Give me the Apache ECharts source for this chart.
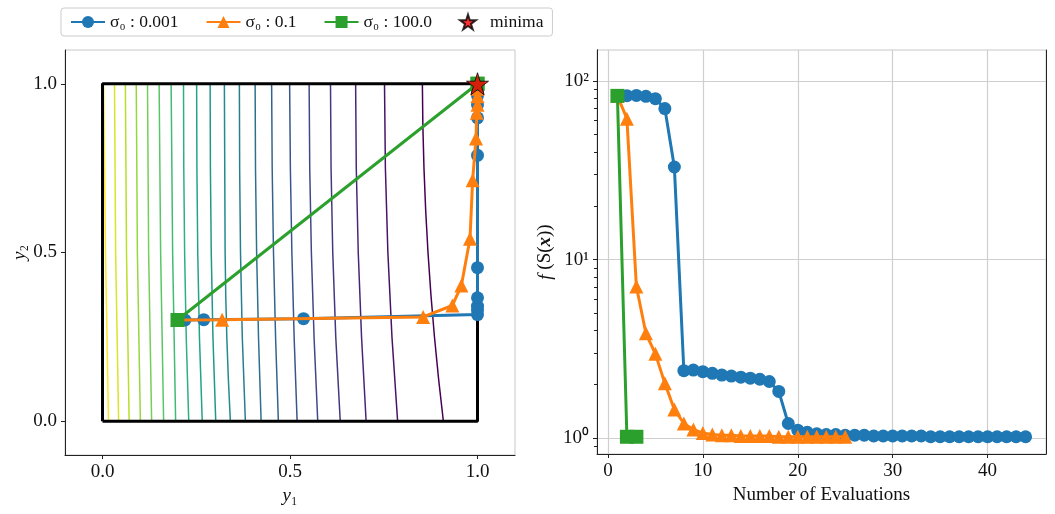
<!DOCTYPE html>
<html lang="en">

<head>
    <meta charset="UTF-8">
    <title>sigma0 comparison</title>
    <script src="https://cdn.jsdelivr.net/npm/echarts@6/dist/echarts.min.js"></script>
</head>

<style>
    html, body {
        margin: 0;
        padding: 0;
        background: #fff;
    }

    #chart {
        width: 1055px;
        height: 514px;
    }
</style>

<body>
    <div id="chart"></div>
</body>

</html>

<script>
    // contour lines (y1 position of each line at y2 = 0, 0.5, 1)
    const contourBottom = [0.016, 0.043, 0.071, 0.101, 0.131, 0.163, 0.195, 0.230, 0.266, 0.302, 0.341, 0.381, 0.423, 0.469, 0.519, 0.574, 0.634, 0.703, 0.787, 0.909];
    const contourMid = [0.008, 0.035, 0.064, 0.093, 0.123, 0.155, 0.187, 0.219, 0.254, 0.290, 0.327, 0.368, 0.411, 0.456, 0.505, 0.557, 0.614, 0.682, 0.761, 0.868];
    const contourTop = [0.003, 0.032, 0.061, 0.090, 0.120, 0.151, 0.183, 0.216, 0.251, 0.287, 0.325, 0.365, 0.407, 0.451, 0.499, 0.551, 0.608, 0.675, 0.752, 0.853];
    const contourLevels = [0.5, 1.0];

    // search box
    const boxX = [0, 1, 1, 0, 0];
    const boxY = [0, 0, 1, 1, 0];

    // trajectories in the (y1, y2) plane
    const blueY1 = [0.2, 0.22, 0.27, 0.536, 1.0, 1.0, 1.0, 1.0, 1.0, 1.0, 1.0, 1.0, 1.0, 1.0, 1.0, 1.0];
    const blueY2 = [0.3, 0.3, 0.301, 0.304, 0.316, 0.33, 0.341, 0.366, 0.455, 0.788, 0.899, 0.938, 0.965, 0.98, 0.99, 1.0];
    const orangeY1 = [0.2, 0.319, 0.855, 0.933, 0.957, 0.98, 0.987, 0.996, 0.998, 1.0, 1.0, 1.0, 1.0];
    const orangeY2 = [0.3, 0.301, 0.309, 0.343, 0.402, 0.541, 0.714, 0.838, 0.914, 0.938, 0.963, 0.985, 1.0];
    const greenY1 = [0.2, 1.0, 1.0];
    const greenY2 = [0.3, 1.0, 1.0];
    const minimaY1 = [1.0];
    const minimaY2 = [1.0];

    // objective value per evaluation
    const blueF = [82.5, 82.7, 83, 82, 79.6, 70, 33, 2.39, 2.41, 2.36, 2.31, 2.26, 2.23, 2.2, 2.17, 2.14, 2.08, 1.83, 1.21, 1.11,
        1.08, 1.06, 1.05, 1.05, 1.04, 1.04, 1.04, 1.03, 1.03, 1.03, 1.03, 1.03, 1.03, 1.02, 1.02, 1.02, 1.02, 1.02, 1.02, 1.02,
        1.02, 1.02, 1.02, 1.02];
    const orangeF = [82.5, 61.5, 7.07, 3.87, 2.97, 2.03, 1.45, 1.21, 1.12, 1.07, 1.05, 1.04, 1.04, 1.03, 1.03, 1.03, 1.03, 1.02,
        1.02, 1.02, 1.02, 1.02, 1.02, 1.02, 1.02];
    const greenF = [82.5, 1.02, 1.02];

    // ticks
    const squareTicks = [0, 0.5, 1];
    const evalTicks = [0, 10, 20, 30, 40];
    const logMajor = [1, 10, 100];
    const logMinor = [0.9, 2, 3, 4, 5, 6, 7, 8, 9, 20, 30, 40, 50, 60, 70, 80, 90];

    const names = ['σ₀ : 0.001', 'σ₀ : 0.1', 'σ₀ : 100.0', 'minima'];
    const blue = '#1f77b4', orange = '#ff7f0e', green = '#2ca02c';
    const font = 'Liberation Serif';
    const starPath = 'path://M50,0 L61,35 L98,35 L68,57 L79,91 L50,70 L21,91 L32,57 L2,35 L39,35 Z';

    const viridis = ['#440154', '#482475', '#414487', '#355f8d', '#2a788e', '#21918c', '#22a884', '#44bf70', '#7ad151', '#bddf26', '#fde725'];

    function viridisAt(t) {
        let p = t * (viridis.length - 1);
        let i = Math.min(Math.floor(p), viridis.length - 2);
        let f = p - i;
        let a = viridis[i], b = viridis[i + 1];
        let c = [1, 3, 5].map(k => {
            let va = parseInt(a.substr(k, 2), 16), vb = parseInt(b.substr(k, 2), 16);
            return Math.round(va + (vb - va) * f);
        });
        return 'rgb(' + c.join(',') + ')';
    }

    function pairs(xs, ys) {
        return xs.map((x, i) => [x, ys[i]]);
    }

    function byEval(vals) {
        return vals.map((v, i) => [i + 1, v]);
    }

    var myChart = echarts.init(document.getElementById('chart'));

    let series = [];

    // contour lines, yellow on the left to purple on the right
    for (let i = 0; i < contourTop.length; i++) {
        series.push({
            type: 'line',
            xAxisIndex: 0,
            yAxisIndex: 0,
            data: [[contourBottom[i], 0], [contourMid[i], contourLevels[0]], [contourTop[i], contourLevels[1]]],
            smooth: true,
            showSymbol: false,
            silent: true,
            z: 1,
            lineStyle: { color: viridisAt(1 - i / (contourTop.length - 1)), width: 1.5 },
        });
    }

    series.push({
        type: 'line',
        xAxisIndex: 0,
        yAxisIndex: 0,
        data: pairs(boxX, boxY),
        showSymbol: false,
        silent: true,
        z: 2,
        lineStyle: { color: '#000', width: 3 },
    });

    function traj(name, color, symbol, size, data, xi, yi, z) {
        return {
            name: name,
            type: 'line',
            xAxisIndex: xi,
            yAxisIndex: yi,
            data: data,
            symbol: symbol,
            symbolSize: size,
            showSymbol: true,
            z: z,
            itemStyle: { color: color },
            lineStyle: { color: color, width: 3 },
        };
    }

    series.push(traj(names[0], blue, 'circle', 13, pairs(blueY1, blueY2), 0, 0, 3));
    series.push(traj(names[1], orange, 'triangle', 14, pairs(orangeY1, orangeY2), 0, 0, 4));
    series.push(traj(names[2], green, 'rect', 14, pairs(greenY1, greenY2), 0, 0, 5));
    series.push({
        name: names[3],
        type: 'scatter',
        xAxisIndex: 0,
        yAxisIndex: 0,
        data: pairs(minimaY1, minimaY2),
        symbol: starPath,
        symbolSize: 22,
        z: 6,
        itemStyle: { color: '#ff0000', borderColor: '#000', borderWidth: 1 },
    });

    series.push(traj(names[0], blue, 'circle', 13, byEval(blueF), 1, 1, 3));
    series.push(traj(names[1], orange, 'triangle', 14, byEval(orangeF), 1, 1, 4));
    series.push(traj(names[2], green, 'rect', 14, byEval(greenF), 1, 1, 5));

    const labelStyle = { fontFamily: font, fontSize: 19, color: '#111', margin: 8 };
    const tickStyle = { show: true, length: 4, lineStyle: { color: '#222', width: 1 } };
    const spine = { show: true, onZero: false, lineStyle: { color: '#222', width: 1 } };
    const nameStyle = {
        fontFamily: font, fontSize: 19, color: '#111',
        rich: {
            it: { fontFamily: font, fontSize: 19, fontStyle: 'italic', color: '#111' },
            bx: { fontFamily: font, fontSize: 19, fontStyle: 'italic', fontWeight: 'bold', color: '#111' },
        },
    };

    option = {
        animation: false,
        legend: {
            data: names,
            left: 61,
            top: 8,
            itemWidth: 34,
            itemHeight: 15,
            itemGap: 27,
            padding: [5, 9],
            borderColor: '#cccccc',
            borderWidth: 1,
            borderRadius: 3,
            textStyle: { fontFamily: font, fontSize: 17.5, color: '#111' },
        },
        grid: [
            { left: 65, top: 50, width: 450, height: 405, show: true, borderColor: '#c8c8c8', borderWidth: 1 },
            { left: 597, top: 50, width: 449, height: 404, show: true, borderColor: '#c8c8c8', borderWidth: 1 },
        ],
        xAxis: [{
            type: 'value',
            gridIndex: 0,
            min: -0.1,
            max: 1.1,
            name: '{it|y}₁',
            nameLocation: 'middle',
            nameGap: 24,
            nameTextStyle: nameStyle,
            axisLine: spine,
            axisTick: Object.assign({ customValues: squareTicks }, tickStyle),
            axisLabel: Object.assign({ customValues: squareTicks, formatter: v => v.toFixed(1) }, labelStyle),
            splitLine: { show: false },
        }, {
            type: 'value',
            gridIndex: 1,
            min: -1.15,
            max: 46.15,
            name: 'Number of Evaluations',
            nameLocation: 'middle',
            nameGap: 29,
            nameTextStyle: nameStyle,
            axisLine: spine,
            axisTick: Object.assign({ customValues: evalTicks }, tickStyle),
            axisLabel: Object.assign({ customValues: evalTicks }, labelStyle),
            splitLine: { show: true, lineStyle: { color: '#cfcfcf', width: 1.2 } },
        }],
        yAxis: [{
            type: 'value',
            gridIndex: 0,
            min: -0.1,
            max: 1.1,
            name: '{it|y}₂',
            nameLocation: 'middle',
            nameGap: 36,
            nameTextStyle: nameStyle,
            axisLine: spine,
            axisTick: Object.assign({ customValues: squareTicks }, tickStyle),
            axisLabel: Object.assign({ customValues: squareTicks, formatter: v => v.toFixed(1) }, labelStyle),
            splitLine: { show: false },
        }, {
            type: 'log',
            gridIndex: 1,
            position: 'left',
            min: 0.817,
            max: 149,
            name: '{it|f} (S({bx|x}))',
            nameLocation: 'middle',
            nameGap: 42,
            nameTextStyle: nameStyle,
            axisLine: spine,
            axisTick: Object.assign({ customValues: logMajor }, tickStyle),
            axisLabel: Object.assign({
                customValues: logMajor,
                formatter: v => '10' + ['⁰', '¹', '²'][Math.round(Math.log10(v))]
            }, labelStyle),
            splitLine: { show: true, lineStyle: { color: '#cfcfcf', width: 1.2 } },
        }, {
            type: 'log',
            gridIndex: 1,
            position: 'left',
            offset: 0,
            min: 0.817,
            max: 149,
            axisLine: { show: true, onZero: false, lineStyle: { color: '#222', width: 1 } },
            axisTick: { show: true, length: 3, customValues: logMinor, lineStyle: { color: '#222', width: 1 } },
            axisLabel: { show: false },
            splitLine: { show: false },
        }, {
            type: 'value',
            gridIndex: 1,
            position: 'right',
            min: 0,
            max: 1,
            axisLine: { show: true, onZero: false, lineStyle: { color: '#222', width: 1 } },
            axisTick: { show: false },
            axisLabel: { show: false },
            splitLine: { show: false },
        }],
        series: series,
    };

    myChart.setOption(option);
    window.addEventListener("resize", function () {
        myChart.resize();
    });
</script>
